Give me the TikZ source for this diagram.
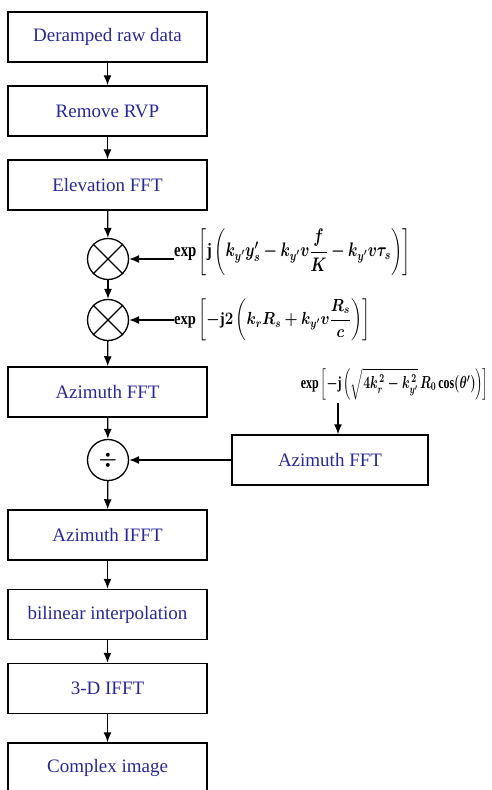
\documentclass[tikz,border=0pt]{standalone}
\usepackage{amsmath,bm,graphicx}
\usepackage{fontspec}
\setmainfont{Liberation Serif}
\usetikzlibrary{arrows.meta}
\definecolor{tblue}{RGB}{40,40,150}
\begin{document}
\begin{tikzpicture}[x=1pt,y=-1pt,
  box/.style={draw, line width=1.5pt, minimum width=199pt, minimum height=50pt, inner sep=0pt,
    font=\fontsize{19}{22}\selectfont, text=tblue},
  op/.style={draw, circle, line width=1.3pt, minimum size=41pt, inner sep=0pt},
  arr/.style={line width=1.3pt, -{Latex[length=10pt,width=8pt]}},
  fml/.style={inner sep=0pt, font=\fontsize{14}{17}\selectfont}]
\useasboundingbox (0,0) rectangle (491,790);
\clip (0,0) rectangle (491,790);
\node[box] (b1) at (107.5,37) {Deramped raw data};
\node[box] (b2) at (107.5,111) {Remove RVP};
\node[box] (b3) at (107.5,185) {Elevation FFT};
\node[op] (m1) at (108,259) {};
\draw[line width=1.3pt] (m1.north west) -- (m1.south east) (m1.north east) -- (m1.south west);
\node[op] (m2) at (108,320) {};
\draw[line width=1.3pt] (m2.north west) -- (m2.south east) (m2.north east) -- (m2.south west);
\node[box] (b4) at (107.5,392) {Azimuth FFT};
\node[op, font=\fontsize{20}{22}\selectfont] (dv) at (108,460) {$\bm{\div}$};
\node[box, minimum width=196pt] (bR) at (330,460) {Azimuth FFT};
\node[box] (b5) at (107.5,535) {Azimuth IFFT};
\node[box] (b6) at (107.5,614.5) {bilinear interpolation};
\node[box] (b7) at (107.5,688.5) {3-D IFFT};
\node[box] (b8) at (107.5,768) {Complex image};

\node[fml, anchor=west] (f1) at (174,252)
  {\resizebox*{236pt}{47pt}{$\bm{\exp\left[\mathrm{j}\left(k_{y'}y'_{s}-k_{y'}v\dfrac{f}{K}-k_{y'}v\tau_{s}\right)\right]}$}};
\node[fml, anchor=west] (f2) at (174,320)
  {\resizebox*{196pt}{42pt}{$\bm{\exp\left[-\mathrm{j}2\left(k_{r}R_{s}+k_{y'}v\dfrac{R_{s}}{c}\right)\right]}$}};
\node[fml, anchor=east] (f3) at (489,384)
  {\resizebox*{188pt}{32pt}{$\bm{\exp\left[-\mathrm{j}\left(\sqrt{4k_{r}^{\,2}-k_{y'}^{\,2}}\,R_{0}\cos(\theta')\right)\right]}$}};
\coordinate (t3) at (338,403);
\coordinate (e1) at (f1.west |- m1.east);

\draw[arr] (b1) -- (b2);
\draw[arr] (b2) -- (b3);
\draw[arr] (b3) -- (m1);
\draw[arr] (m1) -- (m2);
\draw[arr] (m2) -- (b4);
\draw[arr] (b4) -- (dv);
\draw[arr] (dv) -- (b5);
\draw[arr] (b5) -- (b6);
\draw[arr] (b6) -- (b7);
\draw[arr] (b7) -- (b8);
\draw[arr] (e1) -- (m1.east);
\draw[arr] (f2.west) -- (m2.east);
\draw[arr] (bR.west) -- (dv.east);
\draw[arr] (t3) -- (t3 |- bR.north);
\end{tikzpicture}
\end{document}
